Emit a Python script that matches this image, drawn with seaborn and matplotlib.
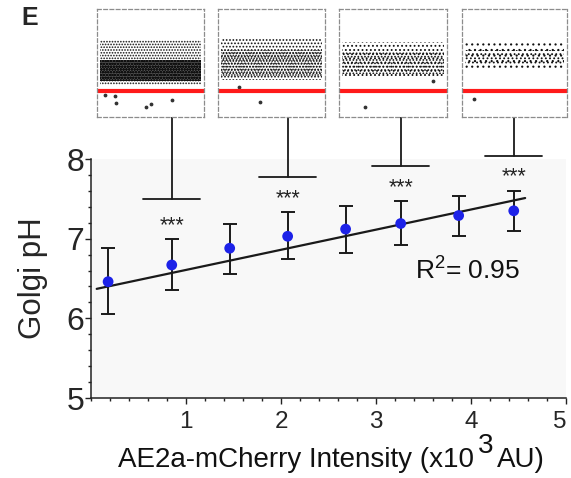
import matplotlib
matplotlib.use("Agg")
import matplotlib.pyplot as plt
import seaborn as sns
import pandas as pd
from matplotlib.ticker import MultipleLocator

# ---------------- data ----------------
intensity = [0.18, 0.85, 1.46, 2.07, 2.68, 3.26, 3.87, 4.45]
golgi_ph = [6.46, 6.67, 6.88, 7.03, 7.12, 7.19, 7.29, 7.35]
err_low = [6.05, 6.35, 6.56, 6.75, 6.82, 6.92, 7.03, 7.10]
err_high = [6.88, 6.99, 7.19, 7.33, 7.41, 7.47, 7.54, 7.60]

fit_x = [0.06, 4.57]
fit_y = [6.37, 7.51]
r_squared = "0.95"

bracket_x = [0.85, 2.07, 3.26, 4.45]
bracket_y = [7.50, 7.77, 7.91, 8.04]
star_y = [7.245, 7.585, 7.72, 7.86]
star_label = "***"

xticks = [1, 2, 3, 4, 5]
yticks = [5, 6, 7, 8]

# inset panels (fractions of each panel)
cloud_bottom = [0.30, 0.34, 0.37, 0.45]
cloud_top = [0.71, 0.73, 0.69, 0.69]
core_top = [0.53, 0.62, 0.60, 0.62]
red_line_y = 0.24
outlier_x = [[0.075, 0.17, 0.18, 0.46, 0.50, 0.70], [0.39, 0.20], [0.24, 0.87], [0.11]]
outlier_y = [[0.20, 0.19, 0.13, 0.09, 0.12, 0.16], [0.14, 0.28], [0.09, 0.33], [0.17]]

# ---------------- style ----------------
sns.set_theme(style="ticks")
plt.rcParams["font.family"] = ["Liberation Sans", "DejaVu Sans"]
plt.rcParams["mathtext.fontset"] = "custom"
plt.rcParams["mathtext.rm"] = "Liberation Sans"
plt.rcParams["mathtext.it"] = "Liberation Sans"
plt.rcParams["hatch.linewidth"] = 0.8

W, H = 571, 478
fig = plt.figure(figsize=(W / 100, H / 100), dpi=100)

def frac(l, t, r, b):
    return [l / W, (H - b) / H, (r - l) / W, (b - t) / H]

ax = fig.add_axes(frac(91, 159, 566, 398))
ax.set_facecolor("#f8f8f8")

df = pd.DataFrame({"intensity": intensity, "ph": golgi_ph,
                   "lo": err_low, "hi": err_high})

ax.errorbar(df["intensity"], df["ph"],
            yerr=[df["ph"] - df["lo"], df["hi"] - df["ph"]],
            fmt="none", ecolor="#1a1a1a", elinewidth=1.4, capsize=5,
            capthick=1.4, zorder=2)
sns.lineplot(x=fit_x, y=fit_y, ax=ax, color="#1a1a1a", lw=1.6, zorder=2.5)
sns.scatterplot(data=df, x="intensity", y="ph", ax=ax, color="#1d22e8",
                s=60, edgecolor="none", zorder=3)

ax.set_xlim(0, 5)
ax.set_ylim(5, 8)
ax.set_xticks(xticks)
ax.set_yticks(yticks)
ax.xaxis.set_minor_locator(MultipleLocator(0.2))
ax.yaxis.set_minor_locator(MultipleLocator(0.2))
ax.tick_params(axis="both", which="major", length=4, width=1, color="#222222")
ax.tick_params(axis="both", which="minor", length=2.2, width=1, color="#222222")
ax.tick_params(axis="x", labelsize=17.5, pad=5)
ax.tick_params(axis="y", labelsize=23, pad=1)
for s in ["top", "right"]:
    ax.spines[s].set_visible(False)
for s in ["left", "bottom"]:
    ax.spines[s].set_linewidth(1.1)
    ax.spines[s].set_color("#222222")
ax.get_xticklabels()[-1].set_horizontalalignment("right")

ax.set_xlabel("")
ax.set_ylabel("Golgi pH", fontsize=22.5, labelpad=13)

# R^2 annotation
ax.text(3.41, 6.49, r"R$^{2}$= " + r_squared, fontsize=19, ha="left",
        va="baseline", color="#111111")

# significance brackets connected to inset panels
half_w = 0.30
top_y = 8.54
for bx, by, sy in zip(bracket_x, bracket_y, star_y):
    ax.plot([bx - half_w, bx + half_w], [by, by], color="#1a1a1a", lw=1.3,
            clip_on=False)
    ax.plot([bx, bx], [by, top_y], color="#1a1a1a", lw=1.3, clip_on=False)
    ax.annotate(star_label, xy=(bx, sy), xytext=(0, -8.5),
                textcoords="offset points", ha="center", va="baseline",
                fontsize=15.5, color="#222222", annotation_clip=False)

# x label with full-size raised exponent
t1 = fig.text(118 / W, (H - 467) / H, "AE2a-mCherry Intensity (x10",
              fontsize=20, ha="left", va="baseline", color="#111111")
t2 = ax.annotate("3", xy=(1, 0), xycoords=t1, xytext=(3, 10),
                 textcoords="offset points", ha="left", va="bottom",
                 fontsize=20, color="#111111", annotation_clip=False)
t3 = ax.annotate("AU)", xy=(1, 0), xycoords=t2, xytext=(2, -10),
                 textcoords="offset points", ha="left", va="bottom",
                 fontsize=20, color="#111111", annotation_clip=False)

# panel letter
fig.text(21 / W, (H - 25) / H, "E", fontsize=18, fontweight="bold",
         ha="left", va="baseline")

# inset panels
boxes = [(97, 9, 204, 117), (218, 9, 325, 117), (339, 9, 447, 117), (462, 9, 567, 117)]
cloud_hatch = ["......", ".....", "....", "..."]
core_hatch = ["oooooo", "......", ".....", "...."]
for i, (l, t, r, b) in enumerate(boxes):
    ia = fig.add_axes(frac(l, t, r, b))
    ia.set_xlim(0, 1)
    ia.set_ylim(0, 1)
    ia.set_xticks([])
    ia.set_yticks([])
    ia.set_facecolor("white")
    for s in ia.spines.values():
        s.set_linestyle((0, (3, 2)))
        s.set_color("#8c8c8c")
        s.set_linewidth(0.9)
    ia.fill_between([0.03, 0.97], cloud_bottom[i], cloud_top[i],
                    facecolor="none", edgecolor="#111111", hatch=cloud_hatch[i],
                    linewidth=0)
    ia.fill_between([0.03, 0.97], cloud_bottom[i] + 0.03, core_top[i],
                    facecolor="#555555" if i == 0 else "none",
                    edgecolor="#111111", hatch=core_hatch[i], linewidth=0)
    ia.axhline(red_line_y, color="#ff1a1a", lw=3)
    ia.scatter(outlier_x[i], outlier_y[i], s=3, color="#333333")

fig.savefig("out.png", dpi=100)
